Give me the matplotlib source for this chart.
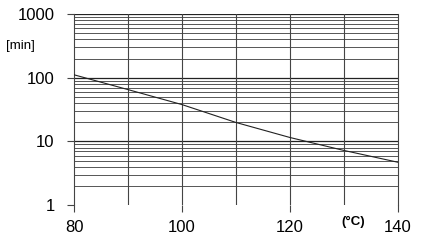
import numpy as np
import matplotlib.pyplot as plt

plt.rcParams['font.family'] = ['Liberation Sans', 'DejaVu Sans']

# curve
temp_c = [80, 90, 100, 110, 120, 130, 140]
time_min = [111, 65, 37.8, 19.8, 11.5, 7.2, 4.7]

x_ticks = [80, 100, 120, 140]
x_grid = [90, 100, 110, 120, 130]
y_ticks = [1, 10, 100, 1000]
y_tick_labels = ['1', '10', '100', '1000']


def minor_levels():
    levels = []
    for dec in [1, 10, 100]:
        for m in range(2, 11):
            levels.append(dec * m)
    return levels


fig = plt.figure(figsize=(4.22, 2.41), dpi=100)
ax = fig.add_axes([0.1754, 0.149, 0.7678, 0.793])

ax.set_yscale('log')
ax.set_xlim(80, 140)
ax.set_ylim(1, 1000)

# horizontal grid, no line at y=1
for v in minor_levels():
    major = v in (10, 100, 1000)
    ax.axhline(v, color='#222222' if major else '#555555',
               lw=0.9 if major else 0.7, zorder=1)
for v in x_grid:
    ax.axvline(v, color='#444444', lw=0.8, zorder=1)

ax.plot(temp_c, time_min, color='#222222', lw=0.8, zorder=3)

for s in ['top', 'bottom']:
    ax.spines[s].set_visible(False)
ax.spines['left'].set_color('#444444')
ax.spines['right'].set_color('#444444')
ax.spines['left'].set_linewidth(0.8)
ax.spines['right'].set_linewidth(0.8)

ax.set_xticks(x_ticks)
ax.set_xticklabels([str(t) for t in x_ticks], fontsize=12)
ax.set_yticks(y_ticks)
ax.set_yticklabels(y_tick_labels, fontsize=12)
ax.yaxis.set_minor_locator(plt.NullLocator())
ax.tick_params(axis='both', length=5, width=0.8, color='#444444')
ax.tick_params(axis='y', pad=9)
ax.tick_params(axis='x', pad=6)

fig.text(0.015, 0.795, '[min]', fontsize=9.5)
fig.text(0.81, 0.065, '(°C)', fontsize=9.5, fontweight='bold')

fig.savefig('out.png', dpi=100)
